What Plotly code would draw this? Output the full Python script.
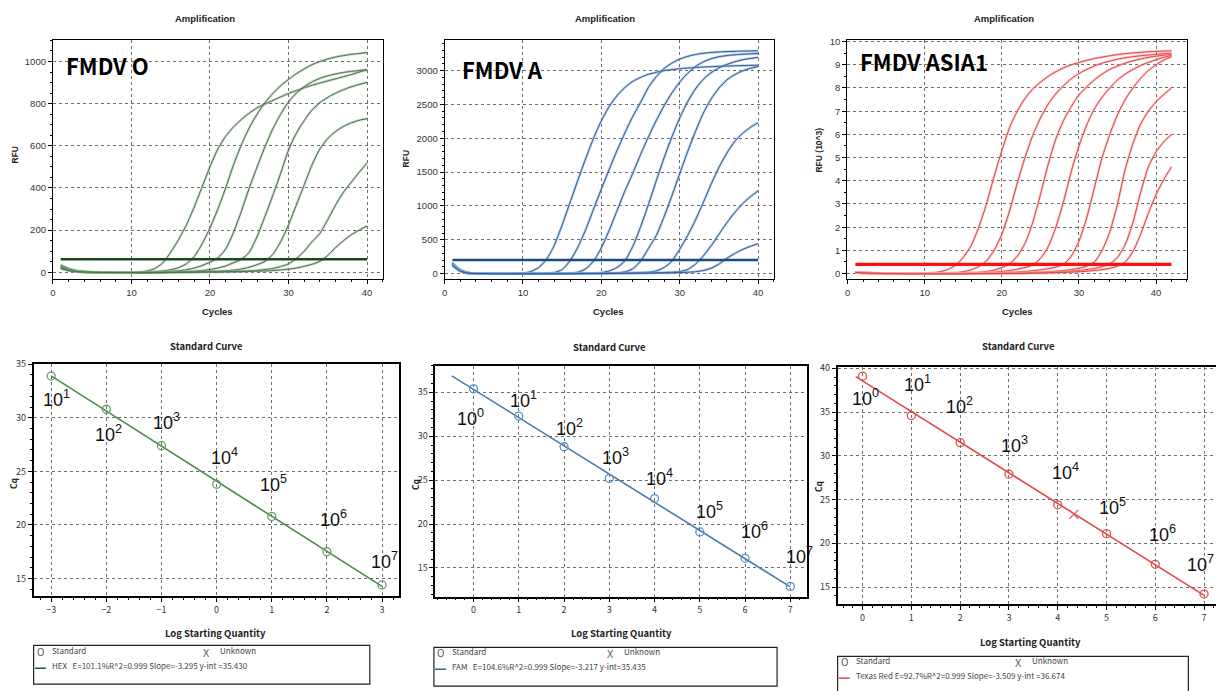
import numpy as np
import plotly.graph_objects as go

W, H = 1216, 691

# ---------------- amplification data ----------------
cycles_40 = list(range(1, 41))
cycles_42 = list(range(1, 43))

# FMDV O (HEX), RFU per cycle
fmdv_o_rfu = [
    [35, 18, 8, 3, 1, 0, -1, -2, -2, -1, 1, 6, 18, 45, 95, 155, 225, 310, 405, 500,
     585, 645, 690, 725, 755, 780, 798, 815, 832, 848, 862, 875, 887, 898, 908, 918, 928, 938, 950, 961],
    [30, 15, 6, 2, 0, -1, -2, -2, -2, -1, 0, 1, 3, 6, 12, 22, 40, 75, 135, 210,
     300, 400, 510, 605, 685, 750, 805, 848, 885, 915, 942, 965, 985, 1000, 1012, 1021, 1028, 1034, 1038, 1042],
    [28, 14, 6, 2, 0, -1, -2, -2, -2, -2, -1, 0, 1, 2, 4, 7, 12, 20, 32, 48,
     68, 110, 190, 290, 400, 500, 595, 680, 750, 808, 850, 880, 903, 920, 932, 941, 948, 953, 957, 961],
    [25, 12, 5, 1, 0, -1, -1, -2, -2, -2, -2, -1, 0, 1, 1, 2, 3, 5, 8, 13,
     20, 30, 45, 62, 95, 170, 265, 365, 470, 580, 660, 720, 770, 805, 830, 850, 866, 880, 891, 901],
    [22, 10, 4, 1, 0, -1, -1, -1, -2, -2, -2, -2, -1, 0, 0, 1, 1, 2, 3, 4,
     5, 7, 10, 15, 24, 36, 52, 85, 145, 225, 320, 415, 510, 585, 635, 668, 692, 709, 721, 729],
    [20, 9, 3, 1, 0, -1, -1, -1, -1, -2, -2, -2, -2, -1, 0, 0, 0, 1, 1, 2,
     2, 3, 4, 5, 7, 9, 13, 18, 27, 40, 65, 100, 145, 185, 250, 320, 380, 428, 475, 518],
    [18, 8, 3, 1, 0, -1, -1, -1, -1, -1, -2, -2, -2, -2, -1, 0, 0, 0, 1, 1,
     1, 2, 2, 3, 4, 5, 6, 8, 11, 15, 20, 28, 38, 52, 80, 118, 150, 178, 200, 220],
]
fmdv_o_threshold = 62

# FMDV A (FAM), RFU per cycle
fmdv_a_rfu = [
    [160, 55, 12, 2, 0, -2, -3, -3, -1, 5, 30, 90, 210, 420, 720, 1050, 1380, 1700, 2000, 2260,
     2470, 2630, 2750, 2840, 2900, 2945, 2975, 3000, 3015, 3028, 3038, 3046, 3053, 3058, 3063, 3067, 3071, 3074, 3077, 3080],
    [150, 50, 10, 2, 0, -2, -3, -3, -3, -2, -1, 0, 3, 15, 60, 190, 390, 650, 950, 1250,
     1540, 1820, 2080, 2320, 2530, 2750, 2910, 3030, 3110, 3170, 3210, 3238, 3256, 3268, 3276, 3281, 3285, 3288, 3290, 3292],
    [145, 48, 10, 2, 0, -2, -3, -3, -3, -3, -2, -1, 0, 1, 2, 5, 20, 70, 185, 380,
     640, 930, 1220, 1480, 1760, 2020, 2260, 2480, 2670, 2830, 2960, 3060, 3130, 3175, 3205, 3222, 3234, 3242, 3248, 3252],
    [140, 45, 9, 2, 0, -2, -3, -3, -3, -3, -3, -2, -1, 0, 1, 2, 3, 4, 5, 15,
     40, 90, 190, 400, 690, 1020, 1370, 1710, 2020, 2300, 2540, 2730, 2870, 2970, 3040, 3090, 3130, 3160, 3180, 3195],
    [135, 42, 8, 1, 0, -2, -3, -3, -3, -3, -3, -3, -2, -1, 0, 1, 2, 3, 4, 5,
     7, 12, 25, 70, 185, 370, 560, 840, 1150, 1480, 1800, 2100, 2370, 2580, 2740, 2860, 2940, 2995, 3032, 3060],
    [130, 40, 8, 1, 0, -2, -3, -3, -3, -3, -3, -3, -3, -2, -1, 0, 1, 2, 3, 4,
     5, 6, 8, 10, 14, 20, 40, 90, 185, 360, 560, 790, 1050, 1320, 1570, 1780, 1950, 2070, 2160, 2230],
    [125, 38, 7, 1, 0, -2, -3, -3, -3, -3, -3, -3, -3, -3, -2, -1, 0, 1, 2, 3,
     4, 5, 6, 7, 8, 10, 12, 15, 20, 30, 60, 140, 260, 410, 580, 750, 900, 1030, 1135, 1222],
    [120, 36, 7, 1, 0, -2, -3, -3, -3, -3, -3, -3, -3, -3, -3, -2, -1, 0, 1, 2,
     3, 4, 5, 6, 7, 8, 9, 10, 12, 15, 20, 28, 45, 80, 140, 225, 295, 355, 402, 443],
]
fmdv_a_threshold = 200

# FMDV ASIA1 (Texas Red), RFU x 10^3 per cycle
fmdv_asia1_rfu = [
    [0.06, 0.04, 0.02, 0.01, 0.0, 0.0, -0.01, -0.01, -0.01, 0.0, 0.03, 0.08, 0.18, 0.36, 0.7, 1.2, 2.0, 3.0, 4.2, 5.3,
     6.3, 7.0, 7.55, 7.95, 8.25, 8.5, 8.7, 8.87, 9.0, 9.1, 9.19, 9.27, 9.33, 9.39, 9.44, 9.48, 9.51, 9.54, 9.56, 9.58, 9.59, 9.6],
    [0.06, 0.04, 0.02, 0.01, 0.0, 0.0, -0.01, -0.01, -0.01, -0.01, 0.0, 0.01, 0.02, 0.04, 0.08, 0.16, 0.3, 0.55, 1.0, 1.7,
     2.7, 3.9, 5.0, 5.95, 6.7, 7.3, 7.75, 8.1, 8.4, 8.62, 8.8, 8.95, 9.07, 9.16, 9.24, 9.3, 9.35, 9.39, 9.42, 9.45, 9.48, 9.5],
    [0.05, 0.03, 0.02, 0.01, 0.0, 0.0, -0.01, -0.01, -0.01, -0.01, -0.01, 0.0, 0.0, 0.01, 0.02, 0.03, 0.05, 0.09, 0.15, 0.26,
     0.42, 0.75, 1.3, 2.2, 3.4, 4.7, 5.8, 6.6, 7.2, 7.7, 8.05, 8.35, 8.6, 8.8, 8.95, 9.07, 9.17, 9.25, 9.32, 9.37, 9.41, 9.45],
    [0.05, 0.03, 0.02, 0.01, 0.0, 0.0, -0.01, -0.01, -0.01, -0.01, -0.01, -0.01, 0.0, 0.0, 0.01, 0.02, 0.03, 0.04, 0.06, 0.09,
     0.13, 0.19, 0.26, 0.37, 0.65, 1.15, 2.0, 3.1, 4.4, 5.5, 6.4, 7.1, 7.6, 8.0, 8.35, 8.6, 8.8, 8.97, 9.1, 9.22, 9.32, 9.4],
    [0.05, 0.03, 0.02, 0.01, 0.0, 0.0, -0.01, -0.01, -0.01, -0.01, -0.01, -0.01, -0.01, 0.0, 0.0, 0.01, 0.01, 0.02, 0.03, 0.04,
     0.05, 0.07, 0.09, 0.12, 0.16, 0.21, 0.28, 0.4, 0.75, 1.4, 2.4, 3.7, 5.0, 6.0, 6.85, 7.5, 8.0, 8.42, 8.75, 9.0, 9.2, 9.35],
    [0.05, 0.03, 0.02, 0.01, 0.0, 0.0, -0.01, -0.01, -0.01, -0.01, -0.01, -0.01, -0.01, -0.01, 0.0, 0.0, 0.0, 0.01, 0.01, 0.02,
     0.02, 0.03, 0.04, 0.05, 0.06, 0.08, 0.1, 0.13, 0.17, 0.23, 0.32, 0.5, 1.0, 1.8, 3.0, 4.5, 5.6, 6.45, 7.0, 7.4, 7.72, 8.0],
    [0.05, 0.03, 0.02, 0.01, 0.0, 0.0, -0.01, -0.01, -0.01, -0.01, -0.01, -0.01, -0.01, -0.01, -0.01, 0.0, 0.0, 0.0, 0.01, 0.01,
     0.01, 0.02, 0.02, 0.03, 0.04, 0.05, 0.06, 0.08, 0.1, 0.13, 0.17, 0.22, 0.3, 0.42, 0.7, 1.25, 2.2, 3.5, 4.6, 5.25, 5.68, 6.0],
    [0.05, 0.03, 0.02, 0.01, 0.0, 0.0, -0.01, -0.01, -0.01, -0.01, -0.01, -0.01, -0.01, -0.01, -0.01, -0.01, 0.0, 0.0, 0.0, 0.0,
     0.01, 0.01, 0.01, 0.02, 0.02, 0.03, 0.04, 0.05, 0.06, 0.08, 0.1, 0.13, 0.17, 0.23, 0.32, 0.5, 0.95, 1.7, 2.6, 3.4, 4.05, 4.6],
]
fmdv_asia1_threshold = 0.40

# ---------------- standard curve data ----------------
o_log_qty = [-3, -2, -1, 0, 1, 2, 3]
o_cq = [33.9, 30.8, 27.4, 23.8, 20.8, 17.5, 14.4]
o_copies_exp = [1, 2, 3, 4, 5, 6, 7]

a_log_qty = [0, 1, 2, 3, 4, 5, 6, 7]
a_cq = [35.4, 32.3, 28.8, 25.2, 22.9, 19.1, 16.1, 12.9]
a_copies_exp = [0, 1, 2, 3, 4, 5, 6, 7]

asia_log_qty = [0, 1, 2, 3, 4, 5, 6, 7]
asia_cq = [39.1, 34.6, 31.5, 27.9, 24.4, 21.1, 17.6, 14.2]
asia_copies_exp = [0, 1, 2, 3, 4, 5, 6, 7]
asia_unknown_qty = [4.33]
asia_unknown_cq = [23.3]

o_fit_text = "HEX   E=101.1%R^2=0.999 Slope=-3.295 y-int =35.430"
a_fit_text = "FAM   E=104.6%R^2=0.999 Slope=-3.217 y-int=35.435"
asia_fit_text = "Texas Red E=92.7%R^2=0.999 Slope=-3.509 y-int =36.674"

# ---------------- layout helpers ----------------
NARROW = "Noto Sans CJK KR, Noto Sans, sans-serif"
SANS = "Liberation Sans, Arial, sans-serif"
TEXT_LIFT = 3  # annotation boxes sit slightly low; lift text to its visual centre


def px_x(px):
    return px / W


def px_y(py):
    return 1 - py / H


def dom(x0, x1, y0, y1):
    return [px_x(x0), px_x(x1)], [px_y(y1), px_y(y0)]


def axis(rng, domain, anchor, dtick, minor_dtick, font, lw=1.0, mirror=True):
    return dict(
        range=rng, domain=domain, anchor=anchor, dtick=dtick, tick0=0,
        showline=True, linecolor="black", linewidth=lw, mirror=mirror,
        ticks="outside", ticklen=4, tickwidth=1, tickcolor="black",
        minor=dict(dtick=minor_dtick, ticks="outside", ticklen=2, tickcolor="black", showgrid=False),
        showgrid=True, gridcolor="#6e6e6e", griddash="dot", gridwidth=1,
        zeroline=False, tickfont=font, fixedrange=True, layer="below traces",
    )


top_font = dict(family=SANS, size=9.5, color="#333")
bot_font = dict(family=NARROW, size=9, color="#333")

fig = go.Figure()

# ---------------- amplification panels ----------------
amp_panels = [
    dict(ax="1", cycles=cycles_40, curves=fmdv_o_rfu, thr=fmdv_o_threshold,
         line="#4d6a4d", halo="rgba(130,175,130,0.45)", thr_color="#1c461c", thr_w=2.6),
    dict(ax="2", cycles=cycles_40, curves=fmdv_a_rfu, thr=fmdv_a_threshold,
         line="#34557e", halo="rgba(120,170,225,0.55)", thr_color="#1d4a85", thr_w=2.6),
    dict(ax="3", cycles=cycles_42, curves=fmdv_asia1_rfu, thr=fmdv_asia1_threshold,
         line="#d8403e", halo="rgba(255,160,160,0.55)", thr_color="#ff1010", thr_w=3.2),
]

for p in amp_panels:
    xa = "x" if p["ax"] == "1" else "x" + p["ax"]
    ya = "y" if p["ax"] == "1" else "y" + p["ax"]
    for curve in p["curves"]:
        fig.add_trace(go.Scatter(x=p["cycles"], y=curve, mode="lines", xaxis=xa, yaxis=ya,
                                 line=dict(color=p["halo"], width=2.6, shape="spline", smoothing=0.6),
                                 hoverinfo="skip", showlegend=False))
        fig.add_trace(go.Scatter(x=p["cycles"], y=curve, mode="lines", xaxis=xa, yaxis=ya,
                                 line=dict(color=p["line"], width=1.0, shape="spline", smoothing=0.6),
                                 hoverinfo="skip", showlegend=False))
    fig.add_trace(go.Scatter(x=[p["cycles"][0], p["cycles"][-1]], y=[p["thr"], p["thr"]],
                             mode="lines", xaxis=xa, yaxis=ya,
                             line=dict(color=p["thr_color"], width=p["thr_w"]),
                             hoverinfo="skip", showlegend=False))

# ---------------- standard curve panels ----------------
std_panels = [
    dict(ax="4", q=o_log_qty, cq=o_cq, exp=o_copies_exp, fit_span=(-3.0, 3.0),
         line="#4e8a4e", mark="#6b9b6b",
         label_pos=[(-2.90, 31.57), (-1.96, 28.25), (-0.91, 29.35), (0.14, 26.12),
                    (1.03, 23.6), (2.11, 20.3), (3.05, 16.4)]),
    dict(ax="5", q=a_log_qty, cq=a_cq, exp=a_copies_exp, fit_span=(-0.48, 7.0),
         line="#4a7aa9", mark="#5a8fc0",
         label_pos=[(-0.06, 31.76), (1.11, 33.8), (2.12, 30.64), (3.14, 27.37),
                    (4.11, 25.0), (5.21, 21.17), (6.2, 18.9), (7.2, 16.1)]),
    dict(ax="6", q=asia_log_qty, cq=asia_cq, exp=asia_copies_exp, fit_span=(-0.14, 7.0),
         line="#e24848", mark="#e05252",
         label_pos=[(0.07, 36.27), (1.13, 37.96), (1.99, 35.36), (3.11, 30.95),
                    (4.16, 27.9), (5.12, 23.82), (6.14, 20.77), (6.93, 17.38)]),
]

annotations = []
for p in std_panels:
    xa, ya = "x" + p["ax"], "y" + p["ax"]
    slope, icpt = np.polyfit(p["q"], p["cq"], 1)
    fx = np.array(p["fit_span"])
    fig.add_trace(go.Scatter(x=fx, y=icpt + slope * fx, mode="lines", xaxis=xa, yaxis=ya,
                             line=dict(color=p["line"], width=1.6),
                             hoverinfo="skip", showlegend=False))
    fig.add_trace(go.Scatter(x=p["q"], y=p["cq"], mode="markers", xaxis=xa, yaxis=ya,
                             marker=dict(symbol="circle-open", size=8, color=p["mark"],
                                         line=dict(width=1.3, color=p["mark"])),
                             hoverinfo="skip", showlegend=False))
    for e, (lx, ly) in zip(p["exp"], p["label_pos"]):
        annotations.append(dict(x=lx, y=ly, xref=xa, yref=ya, text=f"10<sup>{e}</sup>",
                                showarrow=False, xanchor="center", yanchor="middle", yshift=TEXT_LIFT,
                                font=dict(family=SANS, size=18, color="#111")))

fig.add_trace(go.Scatter(x=asia_unknown_qty, y=asia_unknown_cq, mode="markers", xaxis="x6", yaxis="y6",
                         marker=dict(symbol="x-thin-open", size=9, color="#e06060",
                                     line=dict(width=1.3, color="#e06060")),
                         hoverinfo="skip", showlegend=False))

# ---------------- axes ----------------
d1x, d1y = dom(50, 380.75, 33.3, 275)
d2x, d2y = dom(442.7, 772.7, 33.3, 275)
d3x, d3y = dom(846.2, 1187.3, 33.3, 275)
d4x, d4y = dom(30.7, 397, 360.7, 595)
d5x, d5y = dom(433.3, 806, 362.3, 595.7)
d6x, d6y = dom(836.7, 1216, 363.3, 603.3)

layout_axes = dict(
    xaxis=axis([0, 42], d1x, "y", 10, 2, top_font),
    yaxis=axis([-33, 1102], d1y, "x", 200, 50, top_font),
    xaxis2=axis([0, 42], d2x, "y2", 10, 2, top_font),
    yaxis2=axis([-83, 3453], d2y, "x2", 500, 100, top_font),
    xaxis3=axis([-0.07, 44.06], d3x, "y3", 10, 2, top_font),
    yaxis3=axis([-0.243, 10.07], d3y, "x3", 1, 0.5, top_font),
    xaxis4=axis([-3.318, 3.307], d4x, "y4", 1, 0.2, bot_font, lw=1.5),
    yaxis4=axis([13.37, 35.02], d4y, "x4", 5, 1, bot_font, lw=1.5),
    xaxis5=axis([-0.846, 7.368], d5x, "y5", 1, 0.2, bot_font, lw=1.5),
    yaxis5=axis([11.73, 38.04], d5y, "x5", 5, 1, bot_font, lw=1.5),
    xaxis6=axis([-0.511, 7.245], d6x, "y6", 1, 0.2, bot_font, lw=1.5),
    yaxis6=axis([13.04, 40.19], d6y, "x6", 5, 1, bot_font, lw=1.5, mirror=False),
)


# ---------------- text ----------------
def note(px, py, text, font, angle=0, xanchor="center"):
    annotations.append(dict(x=px_x(px), y=px_y(py - TEXT_LIFT), xref="paper", yref="paper", text=text,
                            showarrow=False, xanchor=xanchor, yanchor="middle", borderpad=0,
                            textangle=angle, font=font))


title_font = dict(family=SANS, size=9.5, color="#222", weight="bold")
ntitle_font = dict(family=NARROW, size=9.5, color="#222", weight="bold")
big_font = dict(family=NARROW, size=22, color="black", weight="bold")
axis_lbl = dict(family=SANS, size=8.5, color="#222", weight="bold")

for cx in (203, 603, 1003):
    note(cx, 15, "Amplification", title_font)
for cx in (215, 607, 1017):
    note(cx, 311, "Cycles", title_font)
note(13, 152, "RFU", axis_lbl, angle=-90)
note(404, 157, "RFU", axis_lbl, angle=-90)
note(818, 147, "RFU (10^3)", axis_lbl, angle=-90)

note(62, 62, "FMDV O", big_font, xanchor="left")
note(459, 66, "FMDV A", big_font, xanchor="left")
note(858, 58, "FMDV ASIA1", big_font, xanchor="left")

note(204, 345, "Standard Curve", ntitle_font)
note(608, 346, "Standard Curve", ntitle_font)
note(1018, 345, "Standard Curve", ntitle_font)
note(213, 635, "Log Starting Quantity", ntitle_font)
note(620, 635, "Log Starting Quantity", ntitle_font)
note(1030, 644, "Log Starting Quantity", ntitle_font)
cq_font = dict(family=NARROW, size=8.5, color="#222", weight="bold")
note(10, 484, "Cq", cq_font, angle=-90)
note(413, 485, "Cq", cq_font, angle=-90)
note(817, 487, "Cq", cq_font, angle=-90)

# legend boxes under the standard curves
shapes = []
leg_font = dict(family=NARROW, size=8, color="#444")
sym_font = dict(family=NARROW, size=10, color="#555")
legends = [
    dict(box=(30.7, 645, 367.7, 684), y1=654, y2=668, ox=38, ux=204, line="#2f5a2f", text=o_fit_text),
    dict(box=(432, 647, 776, 686), y1=655, y2=669, ox=439, ux=609, line="#3a6a9a", text=a_fit_text),
    dict(box=(836.7, 656, 1188.3, 700), y1=664, y2=678, ox=844, ux=1018, line="#e04545", text=asia_fit_text),
]
for lg in legends:
    x0, y0, x1, y1 = lg["box"]
    shapes.append(dict(type="rect", xref="paper", yref="paper", x0=px_x(x0), x1=px_x(x1),
                       y0=px_y(y1), y1=px_y(y0), line=dict(color="#222", width=1.2)))
    note(lg["ox"], lg["y1"], "O", sym_font)
    note(lg["ox"] + 10, lg["y1"] - 1, "Standard", leg_font, xanchor="left")
    note(lg["ux"], lg["y1"] + 1, "X", dict(family=NARROW, size=11, color="#666"))
    note(lg["ux"] + 13, lg["y1"] - 1, "Unknown", leg_font, xanchor="left")
    shapes.append(dict(type="line", xref="paper", yref="paper",
                       x0=px_x(lg["ox"] - 6), x1=px_x(lg["ox"] + 5),
                       y0=px_y(lg["y2"]), y1=px_y(lg["y2"]),
                       line=dict(color=lg["line"], width=1.5)))
    note(lg["ox"] + 10, lg["y2"], lg["text"], leg_font, xanchor="left")

fig.update_layout(
    width=W, height=H, autosize=False,
    margin=dict(l=0, r=0, t=0, b=0),
    paper_bgcolor="white", plot_bgcolor="white",
    hovermode=False, showlegend=False,
    annotations=annotations, shapes=shapes,
    **layout_axes,
)

fig.write_html("out.html")
